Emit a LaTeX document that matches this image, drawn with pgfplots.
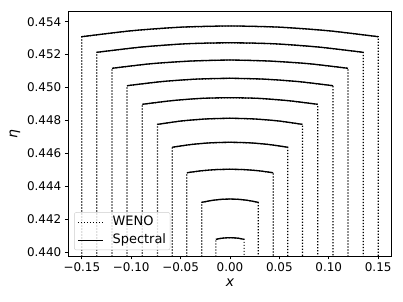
\documentclass[border=0pt]{standalone}
\usepackage{fontspec}
\setmainfont{DejaVu Sans}
\usepackage{pgfplots}
\pgfplotsset{compat=1.18}
\begin{document}
\begin{tikzpicture}
\useasboundingbox (0,0) rectangle (403bp,302bp);
\begin{axis}[
  at={(68.3bp,46bp)}, anchor=south west,
  scale only axis, width=323.4bp, height=244.3bp,
  xmin=-0.1637, xmax=0.1637, ymin=0.43976, ymax=0.45461,
  xtick={-0.15,-0.10,-0.05,0,0.05,0.10,0.15},
  xticklabels={−0.15,−0.10,−0.05,0.00,0.05,0.10,0.15},
  ytick={0.440,0.442,0.444,0.446,0.448,0.450,0.452,0.454},
  yticklabels={0.440,0.442,0.444,0.446,0.448,0.450,0.452,0.454},
  scaled ticks=false,
  tick align=outside, major tick length=3.5bp,
  xtick pos=bottom, ytick pos=left,
  tick style={black, line width=0.8bp},
  axis line style={line width=0.8bp},
  ticklabel style={font=\fontsize{12}{14}\selectfont},
  xlabel={\textit{x}}, ylabel={\textit{η}},
  label style={font=\fontsize{14}{16}\selectfont},
  legend cell align=left,
  legend style={at={(0.018,0.024)}, anchor=south west, draw=black!20,
    rounded corners=2bp, fill=white, fill opacity=0.8, text opacity=1,
    font=\fontsize{13}{15}\selectfont, inner xsep=3bp, inner ysep=2.5bp, row sep=3.5bp,
    nodes={inner sep=1bp, text height=9.5bp, text depth=3bp},
    /tikz/every odd column/.append style={column sep=8bp}},
  legend image code/.code={\draw[#1] (0bp,0bp) -- (25bp,0bp);},
  weno/.style={black, line width=1.2bp, dash pattern=on 1.2bp off 1.8bp},
  spec/.style={black, line width=1.3bp, smooth},
]
% WENO contours
\addplot[weno] coordinates {(-0.150,0.4390)(-0.150,0.45309)(-0.100,0.45345)(-0.050,0.45367)(0,0.45374)(0.050,0.45367)(0.100,0.45345)(0.150,0.45309)(0.150,0.4390)};
\addlegendentry{WENO}
\addplot[spec] coordinates {(-0.150,0.45309)(-0.100,0.45345)(-0.050,0.45367)(0,0.45374)(0.050,0.45367)(0.100,0.45345)(0.150,0.45309)};
\addlegendentry{Spectral}
\addplot[weno,forget plot] coordinates {(-0.1348,0.4390)(-0.1348,0.45214)(-0.0899,0.45246)(-0.0449,0.45266)(0,0.45272)(0.0449,0.45266)(0.0899,0.45246)(0.1348,0.45214)(0.1348,0.4390)};
\addplot[weno,forget plot] coordinates {(-0.1194,0.4390)(-0.1194,0.45117)(-0.0796,0.45145)(-0.0398,0.45161)(0,0.45167)(0.0398,0.45161)(0.0796,0.45145)(0.1194,0.45117)(0.1194,0.4390)};
\addplot[weno,forget plot] coordinates {(-0.1043,0.4390)(-0.1043,0.45011)(-0.0695,0.45036)(-0.0348,0.45051)(0,0.45056)(0.0348,0.45051)(0.0695,0.45036)(0.1043,0.45011)(0.1043,0.4390)};
\addplot[weno,forget plot] coordinates {(-0.0888,0.4390)(-0.0888,0.44898)(-0.0592,0.44920)(-0.0296,0.44934)(0,0.44938)(0.0296,0.44934)(0.0592,0.44920)(0.0888,0.44898)(0.0888,0.4390)};
\addplot[weno,forget plot] coordinates {(-0.0734,0.4390)(-0.0734,0.44776)(-0.0489,0.44797)(-0.0245,0.44809)(0,0.44813)(0.0245,0.44809)(0.0489,0.44797)(0.0734,0.44776)(0.0734,0.4390)};
\addplot[weno,forget plot] coordinates {(-0.0585,0.4390)(-0.0585,0.44637)(-0.0390,0.44654)(-0.0195,0.44664)(0,0.44667)(0.0195,0.44664)(0.0390,0.44654)(0.0585,0.44637)(0.0585,0.4390)};
\addplot[weno,forget plot] coordinates {(-0.0437,0.4390)(-0.0437,0.44482)(-0.0291,0.44494)(-0.0146,0.44501)(0,0.44503)(0.0146,0.44501)(0.0291,0.44494)(0.0437,0.44482)(0.0437,0.4390)};
\addplot[weno,forget plot] coordinates {(-0.0286,0.4390)(-0.0286,0.44302)(-0.0191,0.44313)(-0.0095,0.44320)(0,0.44322)(0.0095,0.44320)(0.0191,0.44313)(0.0286,0.44302)(0.0286,0.4390)};
\addplot[weno,forget plot] coordinates {(-0.0143,0.4390)(-0.0143,0.44077)(-0.0095,0.44083)(-0.0048,0.44086)(0,0.44087)(0.0048,0.44086)(0.0095,0.44083)(0.0143,0.44077)(0.0143,0.4390)};
% Spectral contours
\addplot[spec,forget plot] coordinates {(-0.1348,0.45214)(-0.0899,0.45246)(-0.0449,0.45266)(0,0.45272)(0.0449,0.45266)(0.0899,0.45246)(0.1348,0.45214)};
\addplot[spec,forget plot] coordinates {(-0.1194,0.45117)(-0.0796,0.45145)(-0.0398,0.45161)(0,0.45167)(0.0398,0.45161)(0.0796,0.45145)(0.1194,0.45117)};
\addplot[spec,forget plot] coordinates {(-0.1043,0.45011)(-0.0695,0.45036)(-0.0348,0.45051)(0,0.45056)(0.0348,0.45051)(0.0695,0.45036)(0.1043,0.45011)};
\addplot[spec,forget plot] coordinates {(-0.0888,0.44898)(-0.0592,0.44920)(-0.0296,0.44934)(0,0.44938)(0.0296,0.44934)(0.0592,0.44920)(0.0888,0.44898)};
\addplot[spec,forget plot] coordinates {(-0.0734,0.44776)(-0.0489,0.44797)(-0.0245,0.44809)(0,0.44813)(0.0245,0.44809)(0.0489,0.44797)(0.0734,0.44776)};
\addplot[spec,forget plot] coordinates {(-0.0585,0.44637)(-0.0390,0.44654)(-0.0195,0.44664)(0,0.44667)(0.0195,0.44664)(0.0390,0.44654)(0.0585,0.44637)};
\addplot[spec,forget plot] coordinates {(-0.0437,0.44482)(-0.0291,0.44494)(-0.0146,0.44501)(0,0.44503)(0.0146,0.44501)(0.0291,0.44494)(0.0437,0.44482)};
\addplot[spec,forget plot] coordinates {(-0.0286,0.44302)(-0.0191,0.44313)(-0.0095,0.44320)(0,0.44322)(0.0095,0.44320)(0.0191,0.44313)(0.0286,0.44302)};
\addplot[spec,forget plot] coordinates {(-0.0143,0.44077)(-0.0095,0.44083)(-0.0048,0.44086)(0,0.44087)(0.0048,0.44086)(0.0095,0.44083)(0.0143,0.44077)};
\end{axis}
\end{tikzpicture}
\end{document}
